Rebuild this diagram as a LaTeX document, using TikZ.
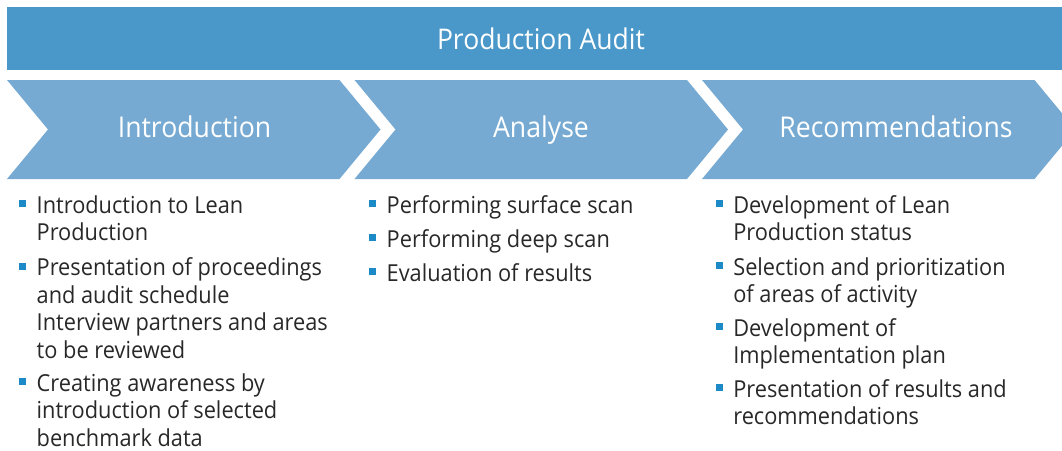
\documentclass[tikz,border=0pt]{standalone}
\usepackage{fontspec}
\setmainfont{Open Sans}[FakeStretch=0.93]
\begin{document}
\begin{tikzpicture}[x=1pt,y=-1pt,
  every node/.style={inner sep=0pt, outer sep=0pt},
  banner/.style={fill=bannerblue, draw=none},
  chevron/.style={fill=chevblue, draw=none},
  head/.style={text=white, font=\fontsize{28.5}{32}\selectfont, anchor=base},
  phase/.style={text=white, font=\fontsize{28.6}{32}\selectfont, anchor=base},
  item/.style={text=bodytext, align=left, anchor=north west,
    font=\fontsize{23.4}{27.5}\selectfont},
  bullet/.style={fill=bulletblue, minimum width=7pt, minimum height=7pt, draw=none}
]
\definecolor{bannerblue}{RGB}{73,152,201}
\definecolor{chevblue}{RGB}{118,170,210}
\definecolor{bulletblue}{RGB}{28,138,198}
\definecolor{bodytext}{RGB}{40,40,40}

\useasboundingbox (0,0) rectangle (1062,450);
\begin{scope}
\clip (0,0) rectangle (1062,450);

% title banner
\fill[banner] (7,7) rectangle (1062,70);

% three phase chevrons
\foreach \x in {7, 354.5, 702}{
  \fill[chevron] (\x,80) -- ++(332.5,0) -- ++(41,49.5) -- ++(-41,49.5)
    -- ++(-332.5,0) -- ++(41,-49.5) -- cycle;
}
\end{scope}
\node[head] (title) at (541,49.5) {Production Audit};
\node[phase] (intro) at (194.5,137) {Introduction};
\node[phase] (analyse) at (541,137) {Analyse};
\node[phase] (recom) at (896,137) {Recommendations};

% bullet lists (baseline of first line = top + 19.25)
\def\sb{19.25}
\node[item] (i1) at (36.7,213.3-\sb) {\strut Introduction to Lean\\Production};
\node[item] (i2) at (36.7,275.8-\sb) {\strut Presentation of proceedings\\and audit schedule\\Interview partners and areas\\to be reviewed};
\node[item] (i3) at (36.7,391.2-\sb) {\strut Creating awareness by\\introduction of selected\\benchmark data};

\node[item] (a1) at (386.7,213.3-\sb) {\strut Performing surface scan};
\node[item] (a2) at (386.7,247.3-\sb) {\strut Performing deep scan};
\node[item] (a3) at (386.7,281.3-\sb) {\strut Evaluation of results};

\node[item] (r1) at (733.3,213.3-\sb) {\strut Development of Lean\\Production status};
\node[item] (r2) at (733.3,275-\sb) {\strut Selection and prioritization\\of areas of activity};
\node[item] (r3) at (733.3,336-\sb) {\strut Development of\\Implementation plan};
\node[item] (r4) at (733.3,397-\sb) {\strut Presentation of results and\\recommendations};

\foreach \n in {i1,i2,i3,a1,a2,a3,r1,r2,r3,r4}{
  \node[bullet] (b\n) at ([xshift=-14pt,yshift=-9.75pt]\n.north west) {};
}
\end{tikzpicture}
\end{document}
